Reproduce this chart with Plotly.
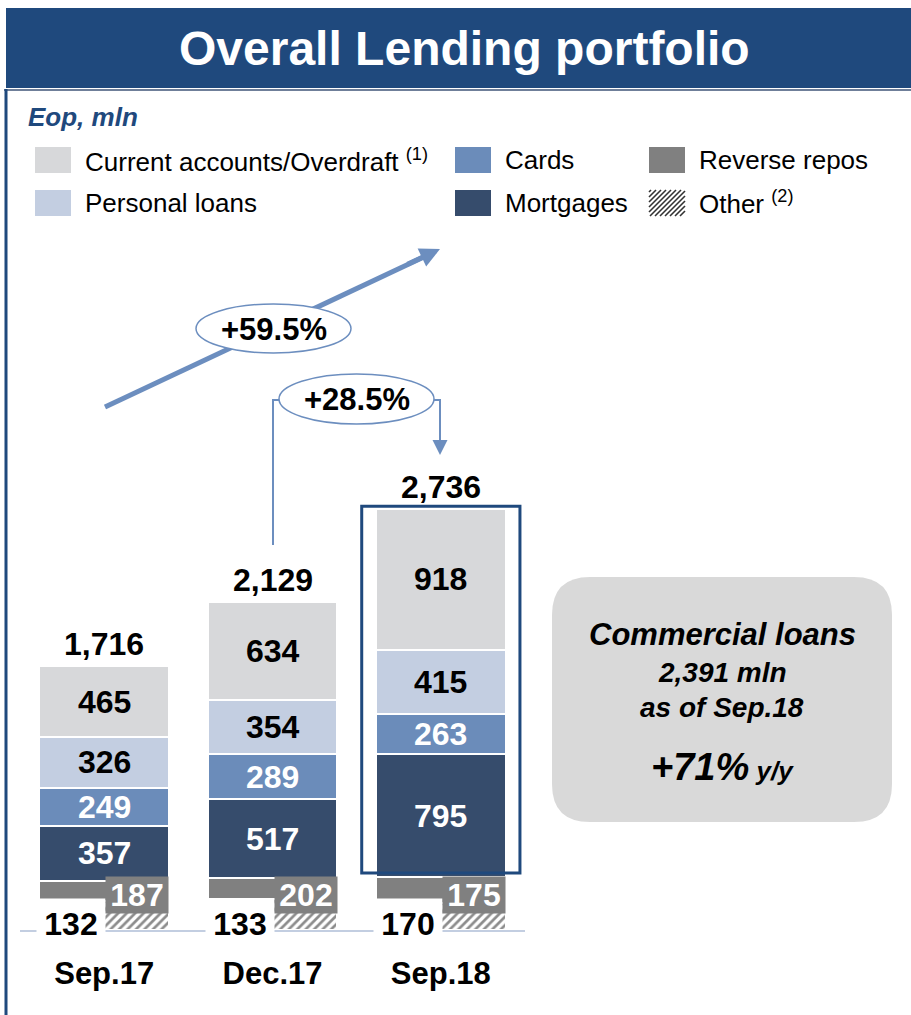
import plotly.graph_objects as go

# ---------------- data ----------------
categories = ["Sep.17", "Dec.17", "Sep.18"]
current_accounts = [465, 634, 918]
personal_loans = [326, 354, 415]
cards = [249, 289, 263]
mortgages = [357, 517, 795]
reverse_repos = [132, 133, 170]
other = [187, 202, 175]
totals = [1716, 2129, 2736]

growth_ytd_label = "+59.5%"
growth_qoq_label = "+28.5%"
commercial_lines = ["Commercial loans", "2,391 mln", "as of Sep.18"]
commercial_growth = "+71%"

# ---------------- styling ----------------
W, H = 911, 1015
FONT = "Liberation Sans, Arial, sans-serif"
NAVY = "#1F497D"
ARROW = "#6C8EBF"
C_CUR = "#D7D8DA"
C_PER = "#C3CEE1"
C_CARD = "#6B8CBA"
C_MORT = "#364C6C"
C_REPO = "#808080"

PX_PER_UNIT = 0.154
AX_LEFT, AX_RIGHT, AX_BOTTOM, AX_TOP = 20, 525, 930, 95


def px(x):
    return x / W


def py(y):
    return 1 - y / H


def paper_text(x, y, text, size, color="black", xanchor="center"):
    return dict(x=px(x), y=py(y), xref="paper", yref="paper", text=text, showarrow=False,
                xanchor=xanchor, yanchor="middle",
                font=dict(family=FONT, size=size, color=color))


fig = go.Figure()

bar_w = 0.77
line = dict(color="white", width=2)
fig.add_trace(go.Bar(x=categories, y=other, name="Other", width=bar_w,
                     marker=dict(color="white", line=line,
                                 pattern=dict(shape="/", fgcolor="#1a1a1a", bgcolor="white",
                                              size=6, solidity=0.45))))
fig.add_trace(go.Bar(x=categories, y=reverse_repos, name="Reverse repos", width=bar_w,
                     marker=dict(color=C_REPO, line=line)))
fig.add_trace(go.Bar(x=categories, y=mortgages, name="Mortgages", width=bar_w,
                     marker=dict(color=C_MORT, line=line)))
fig.add_trace(go.Bar(x=categories, y=cards, name="Cards", width=bar_w,
                     marker=dict(color=C_CARD, line=line)))
fig.add_trace(go.Bar(x=categories, y=personal_loans, name="Personal loans", width=bar_w,
                     marker=dict(color=C_PER, line=line)))
fig.add_trace(go.Bar(x=categories, y=current_accounts, name="Current accounts/Overdraft",
                     width=bar_w, marker=dict(color=C_CUR, line=line)))

annotations = []
shapes = []

# segment labels
for i, cat in enumerate(categories):
    base = other[i] + reverse_repos[i]
    for vals, col in [(mortgages, "white"), (cards, "white"),
                      (personal_loans, "black"), (current_accounts, "black")]:
        v = vals[i]
        annotations.append(dict(x=cat, y=base + v / 2, xref="x", yref="y",
                                text=f"<b>{v}</b>", showarrow=False,
                                xanchor="center", yanchor="middle",
                                font=dict(family=FONT, size=32, color=col)))
        base += v
    # totals
    annotations.append(dict(x=cat, y=totals[i], xref="x", yref="y",
                            text=f"<b>{totals[i]:,}</b>", showarrow=False,
                            xanchor="center", yanchor="middle", yshift=22,
                            font=dict(family=FONT, size=32, color="black")))
    # reverse repos label (white box, left)
    annotations.append(dict(x=cat, y=0, xref="x", yref="y", text=f"<b>{reverse_repos[i]}</b>",
                            showarrow=False, xanchor="center", yanchor="middle",
                            xshift=-33, yshift=6, width=68, height=50,
                            bgcolor="white", borderpad=0,
                            font=dict(family=FONT, size=32, color="black")))
    # other label (grey box, right)
    annotations.append(dict(x=cat, y=0, xref="x", yref="y", text=f"<b>{other[i]}</b>",
                            showarrow=False, xanchor="center", yanchor="middle",
                            xshift=33, yshift=35, width=62, height=36,
                            bgcolor=C_REPO, borderpad=0,
                            font=dict(family=FONT, size=32, color="white")))

# highlight frame around Sep.18
shapes.append(dict(type="rect", xref="x", yref="y", x0=2 - 0.47, x1=2 + 0.47,
                   y0=other[2] + reverse_repos[2] + 25, y1=totals[2] + 15,
                   line=dict(color=NAVY, width=3), fillcolor="rgba(0,0,0,0)", layer="above"))

# header banner
shapes.append(dict(type="rect", xref="paper", yref="paper", x0=px(6), x1=1, y0=py(88), y1=py(8),
                   fillcolor=NAVY, line=dict(width=0), layer="below"))
shapes.append(dict(type="line", xref="paper", yref="paper", x0=px(4), x1=1, y0=py(90), y1=py(90),
                   line=dict(color="#6F7F99", width=2), layer="below"))
shapes.append(dict(type="line", xref="paper", yref="paper", x0=px(6), x1=px(6), y0=py(89), y1=0,
                   line=dict(color=NAVY, width=3), layer="below"))
annotations.append(paper_text(464, 49, "<b>Overall Lending portfolio</b>", 48, "white"))
annotations.append(paper_text(26, 117, "<b><i>Eop, mln</i></b>", 26, NAVY, xanchor="left"))

# custom legend
legend_items = [
    (35, 147, C_CUR, "Current accounts/Overdraft <sup>(1)</sup>", False),
    (35, 190, C_PER, "Personal loans", False),
    (455, 147, C_CARD, "Cards", False),
    (455, 190, C_MORT, "Mortgages", False),
    (649, 147, C_REPO, "Reverse repos", False),
    (649, 190, "white", "Other <sup>(2)</sup>", True),
]
for (lx, ly, col, label, hatch) in legend_items:
    sw, sh = 36, 26
    shapes.append(dict(type="rect", xref="paper", yref="paper", x0=px(lx), x1=px(lx + sw),
                       y0=py(ly + sh), y1=py(ly), fillcolor=col, line=dict(width=0)))
    if hatch:
        X0, X1, Y0, Y1 = lx, lx + sw, ly, ly + sh
        c = X0 + Y0 + 2
        while c < X1 + Y1:
            xa = max(X0, c - Y1)
            xb = min(X1, c - Y0)
            if xb > xa:
                shapes.append(dict(type="line", xref="paper", yref="paper",
                                   x0=px(xa), y0=py(c - xa), x1=px(xb), y1=py(c - xb),
                                   line=dict(color="#333333", width=1.6)))
            c += 5
    annotations.append(paper_text(lx + 48, ly + sh / 2, label, 26, "black", xanchor="left"))

# growth arrows
shapes.append(dict(type="line", xref="paper", yref="paper", x0=px(105), y0=py(407),
                   x1=px(428), y1=py(255), line=dict(color=ARROW, width=5)))
annotations.append(dict(x=px(440), y=py(249), xref="paper", yref="paper", text="",
                        showarrow=True, ax=-34, ay=16, arrowhead=2, arrowsize=0.8,
                        arrowwidth=5, arrowcolor=ARROW, standoff=0))
shapes.append(dict(type="circle", xref="paper", yref="paper", x0=px(196), x1=px(351),
                   y0=py(353), y1=py(304), fillcolor="white", line=dict(color=ARROW, width=1.5)))
annotations.append(paper_text(273.5, 329, f"<b>{growth_ytd_label}</b>", 31))

bracket = (f"M {px(273)},{py(545)} L {px(273)},{py(400)} L {px(281)},{py(400)} "
           f"M {px(432)},{py(400)} L {px(440)},{py(400)} L {px(440)},{py(440)}")
shapes.append(dict(type="path", xref="paper", yref="paper", path=bracket,
                   line=dict(color=ARROW, width=2)))
annotations.append(dict(x=px(440), y=py(455), xref="paper", yref="paper", text="",
                        showarrow=True, ax=0, ay=-22, arrowhead=2, arrowsize=1.5,
                        arrowwidth=2, arrowcolor=ARROW, standoff=0))
shapes.append(dict(type="circle", xref="paper", yref="paper", x0=px(279), x1=px(434),
                   y0=py(424), y1=py(374), fillcolor="white", line=dict(color=ARROW, width=1.5)))
annotations.append(paper_text(356.5, 400, f"<b>{growth_qoq_label}</b>", 31))


# commercial loans rounded box
def rrect(x0, y0, x1, y1, r):
    pts = [("M", [(x0 + r, y0)]), ("L", [(x1 - r, y0)]), ("Q", [(x1, y0), (x1, y0 + r)]),
           ("L", [(x1, y1 - r)]), ("Q", [(x1, y1), (x1 - r, y1)]), ("L", [(x0 + r, y1)]),
           ("Q", [(x0, y1), (x0, y1 - r)]), ("L", [(x0, y0 + r)]), ("Q", [(x0, y0), (x0 + r, y0)])]
    s = ""
    for cmd, ps in pts:
        s += cmd + " " + " ".join(f"{px(a)},{py(b)}" for a, b in ps) + " "
    return s + "Z"


shapes.append(dict(type="path", xref="paper", yref="paper", path=rrect(552, 577, 892, 822, 38),
                   fillcolor="#D9D9D9", line=dict(width=0)))
annotations.append(paper_text(722, 634, f"<b><i>{commercial_lines[0]}</i></b>", 31))
annotations.append(paper_text(722, 672, f"<b><i>{commercial_lines[1]}</i></b>", 28))
annotations.append(paper_text(722, 707, f"<b><i>{commercial_lines[2]}</i></b>", 28))
annotations.append(paper_text(
    722, 767,
    f"<b><i>{commercial_growth}</i></b><span style='font-size:26px'><b><i> y/y</i></b></span>", 38))

plot_h = AX_BOTTOM - AX_TOP
fig.update_layout(
    width=W, height=H, margin=dict(l=0, r=0, t=0, b=0),
    paper_bgcolor="white", plot_bgcolor="white",
    barmode="stack", showlegend=False,
    xaxis=dict(domain=[px(AX_LEFT), px(AX_RIGHT)], range=[-0.5, 2.5], type="category",
               showline=True, linecolor="#C3CEE1", linewidth=2, ticks="",
               showgrid=False, zeroline=False, ticklabelstandoff=15,
               tickfont=dict(family=FONT, size=31, color="black", weight="bold")),
    yaxis=dict(domain=[1 - AX_BOTTOM / H, 1 - AX_TOP / H], range=[0, plot_h / PX_PER_UNIT],
               visible=False, showgrid=False, zeroline=False),
    shapes=shapes, annotations=annotations,
)

fig.write_html("out.html", config={"displayModeBar": False},
               post_script="document.body.style.margin='0px';")
